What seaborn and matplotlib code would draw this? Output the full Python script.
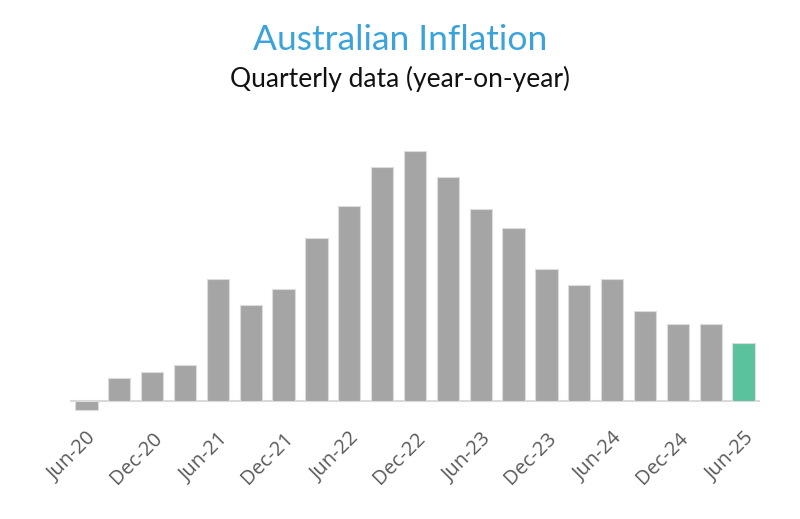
import numpy as np
import pandas as pd
import matplotlib
matplotlib.use('Agg')
import matplotlib.pyplot as plt
import seaborn as sns

# Data: Australian CPI, year-on-year % change, quarterly
quarters = ['Jun-20', 'Sep-20', 'Dec-20', 'Mar-21', 'Jun-21', 'Sep-21', 'Dec-21',
            'Mar-22', 'Jun-22', 'Sep-22', 'Dec-22', 'Mar-23', 'Jun-23', 'Sep-23',
            'Dec-23', 'Mar-24', 'Jun-24', 'Sep-24', 'Dec-24', 'Mar-25', 'Jun-25']
inflation = [-0.3, 0.7, 0.9, 1.1, 3.8, 3.0, 3.5,
             5.1, 6.1, 7.3, 7.8, 7.0, 6.0, 5.4,
             4.1, 3.6, 3.8, 2.8, 2.4, 2.4, 1.8]
latest = [False] * 20 + [True]

title = 'Australian Inflation'
subtitle = 'Quarterly data (year-on-year)'

sns.set_style('white')
plt.rcParams['font.family'] = ['Open Sans', 'DejaVu Sans']

df = pd.DataFrame({'quarter': quarters, 'value': inflation,
                   'latest': ['yes' if l else 'no' for l in latest]})

fig = plt.figure(figsize=(8, 5.19), dpi=100)
ax = fig.add_axes([0.0875, 0.2033, 0.8625, 0.5487])

sns.barplot(data=df, x='quarter', y='value', hue='latest',
            palette={'no': '#a5a5a5', 'yes': '#5bc29e'}, saturation=1,
            dodge=False, width=0.68, legend=False,
            edgecolor='#dcdcdc', linewidth=0.8, ax=ax)

ax.set_xlim(-0.5, len(quarters) - 0.5)
ax.set_ylim(-0.4, 8.5)
ax.axhline(0, color='#d9d9d9', linewidth=1.5, zorder=0)

for s in ax.spines.values():
    s.set_visible(False)
ax.set_yticks([])
ax.set_xlabel('')
ax.set_ylabel('')

ticks = list(range(0, len(quarters), 2))
ax.set_xticks(ticks)
ax.set_xticklabels([quarters[i] for i in ticks], rotation=45, ha='right',
                   rotation_mode='anchor', fontsize=14.5, color='#595959')
ax.tick_params(axis='x', length=0, pad=11)

fig.text(0.5, 0.922, title, ha='center', va='center', fontsize=25.5,
         color='#3ba3dc', family=['Lato', 'DejaVu Sans'])
fig.text(0.5, 0.848, subtitle, ha='center', va='center', fontsize=19,
         color='#111111', family=['Lato', 'DejaVu Sans'])

fig.savefig('out.png', dpi=100, facecolor='white')
